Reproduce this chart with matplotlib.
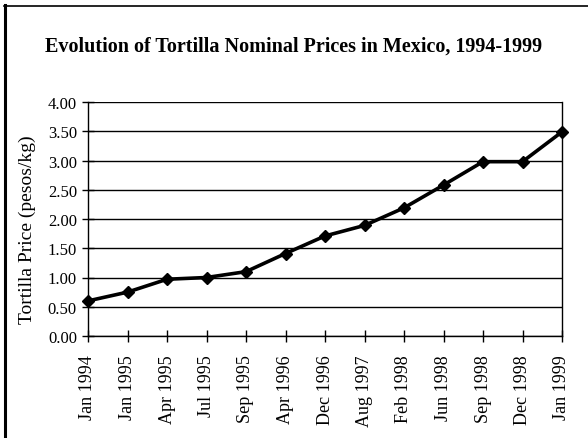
import matplotlib
matplotlib.use("Agg")
import matplotlib.pyplot as plt
from matplotlib.lines import Line2D

categories = ["Jan 1994", "Jan 1995", "Apr 1995", "Jul 1995", "Sep 1995", "Apr 1996",
              "Dec 1996", "Aug 1997", "Feb 1998", "Jun 1998", "Sep 1998", "Dec 1998", "Jan 1999"]
prices = [0.60, 0.75, 0.97, 1.00, 1.10, 1.41, 1.71, 1.89, 2.19, 2.58, 2.98, 2.98, 3.49]
yticks = [0.0, 0.5, 1.0, 1.5, 2.0, 2.5, 3.0, 3.5, 4.0]

plt.rcParams['font.family'] = ['Liberation Serif', 'DejaVu Serif']

fig = plt.figure(figsize=(5.88, 4.39), dpi=100)
ax = fig.add_axes([88/588, 1-337/439, (562-88)/588, (337-103)/439])

x = list(range(len(categories)))
ax.plot(x, prices, color='black', lw=2.6, marker='D', markersize=6.5, zorder=5, clip_on=False)

ax.set_xlim(0, len(categories)-1)
ax.set_ylim(0, 4)
ax.set_yticks(yticks)
ax.set_yticklabels([f"{v:.2f}" for v in yticks], fontsize=12)
ax.set_xticks(x)
ax.set_xticklabels(categories, rotation=90, fontsize=13)
ax.grid(axis='y', color='black', lw=1.0)
ax.tick_params(axis='y', direction='inout', length=8, width=1, colors='black', pad=4)
ax.tick_params(axis='x', direction='inout', length=8, width=1, colors='black', pad=9)
ax.spines['top'].set_visible(False)
for s in ['left', 'right', 'bottom']:
    ax.spines[s].set_linewidth(1.0)
ax.set_ylabel("Tortilla Price (pesos/kg)", fontsize=14)
ax.yaxis.set_label_coords(-(88-27)/474, (337-230)/234)
ax.yaxis.label.set_va('center')

fig.text(294/588, 1-47/439, "Evolution of Tortilla Nominal Prices in Mexico, 1994-1999",
         ha='center', va='center', fontsize=14.5, fontweight='bold')

# page frame: left and top edges only
fig.lines.append(Line2D([4.5/588, 4.5/588], [0, 1-6/439], transform=fig.transFigure,
                        color='black', lw=2.2))
fig.lines.append(Line2D([3.5/588, 1], [1-6.5/439, 1-6.5/439], transform=fig.transFigure,
                        color='black', lw=1.2))

fig.savefig("out.png", dpi=100)
